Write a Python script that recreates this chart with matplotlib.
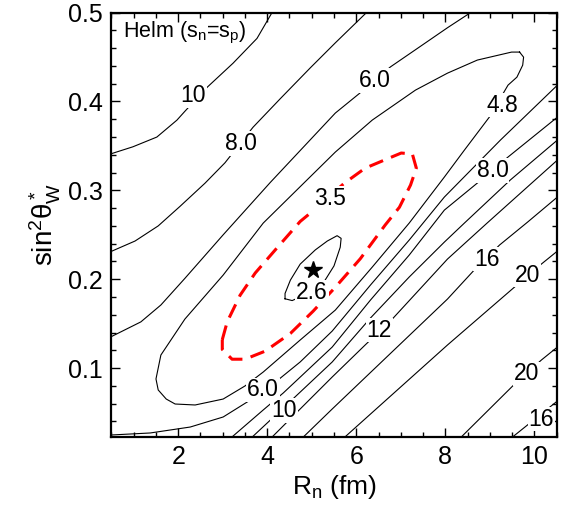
import matplotlib.pyplot as plt
from matplotlib.ticker import MultipleLocator

plt.rcParams["font.family"] = ["Liberation Sans", "DejaVu Sans"]
plt.rcParams["mathtext.fontset"] = "custom"
plt.rcParams["mathtext.rm"] = "Liberation Sans"
plt.rcParams["mathtext.it"] = "Liberation Sans:italic"
plt.rcParams["mathtext.default"] = "regular"

# ---------------------------------------------------------------------------
# Contour lines read off the chi^2 map: R_n (fm) vs sin^2 theta_W
# ---------------------------------------------------------------------------
c10_up_x = [0.48, 0.98, 1.52, 1.97, 2.15, 2.65, 3.23, 3.77, 4.13]
c10_up_y = [0.341, 0.349, 0.360, 0.379, 0.389, 0.416, 0.443, 0.471, 0.502]

c8_up_x = [0.48, 1.03, 1.55, 2.04, 2.60, 3.05, 3.68, 4.29, 4.97, 5.53, 6.27]
c8_up_y = [0.231, 0.243, 0.260, 0.282, 0.308, 0.331, 0.371, 0.403, 0.438, 0.466, 0.502]

c6_up_x = [0.48, 1.16, 1.61, 2.15, 3.01, 4.07, 5.53, 6.07, 6.77, 7.44, 8.05, 8.63]
c6_up_y = [0.135, 0.152, 0.171, 0.201, 0.250, 0.309, 0.387, 0.409, 0.439, 0.462, 0.483, 0.502]

c48_x = [9.67, 9.76, 9.74, 9.61, 9.41, 8.99, 8.43, 7.98, 7.19, 6.36, 5.53, 4.74,
         3.91, 3.50, 3.01, 2.38, 1.93, 1.73, 1.55, 1.50, 1.61, 2.15, 3.01, 3.91,
         5.53, 6.36, 7.33, 8.05, 8.72, 9.49, 9.67]
c48_y = [0.4556, 0.4499, 0.4409, 0.4274, 0.4184, 0.3824, 0.3453, 0.3150, 0.2632,
         0.2137, 0.1653, 0.1316, 0.0956, 0.0799, 0.0652, 0.0585, 0.0596, 0.0652,
         0.0754, 0.0878, 0.1147, 0.1552, 0.2047, 0.2632, 0.3431, 0.3791, 0.4128,
         0.4319, 0.4466, 0.4556, 0.4556]

c6_lo_x = [0.48, 1.37, 2.27, 3.01, 3.91, 4.74, 5.46, 6.32, 7.19, 7.98, 9.24, 10.52]
c6_lo_y = [0.0247, 0.0270, 0.0337, 0.0450, 0.0731, 0.1069, 0.1417, 0.1935, 0.2441,
           0.2925, 0.3566, 0.4184]

c8_lo_x = [3.15, 3.91, 4.36, 5.46, 6.32, 7.19, 7.98, 8.72, 9.41, 10.52]
c8_lo_y = [0.020, 0.0529, 0.0720, 0.1237, 0.1766, 0.2272, 0.2778, 0.3082, 0.3375, 0.3824]

c10_lo_x = [3.61, 4.36, 5.46, 6.32, 7.19, 7.98, 8.43, 9.46, 10.52]
c10_lo_y = [0.020, 0.0551, 0.1069, 0.1564, 0.2025, 0.2418, 0.2632, 0.3116, 0.3566]

c12_x = [4.06, 5.46, 6.20, 6.81, 8.05, 8.94, 10.52]
c12_y = [0.020, 0.0900, 0.1260, 0.1552, 0.2227, 0.2632, 0.3341]

c16_x = [4.76, 5.46, 8.05, 8.65, 9.22, 9.85, 10.52]
c16_y = [0.020, 0.0540, 0.1777, 0.2103, 0.2385, 0.2643, 0.2925]

c20_x = [5.69, 8.05, 9.61, 10.16, 10.52]
c20_y = [0.020, 0.1260, 0.1935, 0.2171, 0.2317]

c20b_x = [8.31, 9.56, 10.16, 10.52]
c20b_y = [0.020, 0.0821, 0.1091, 0.1237]

c16b_x = [9.45, 10.52]
c16b_y = [0.020, 0.063]

c26_x = [4.40, 4.56, 4.74, 5.01, 5.30, 5.50, 5.64, 5.66, 5.57, 5.35, 5.08, 4.74, 4.52, 4.40, 4.40]
c26_y = [0.178, 0.176, 0.180, 0.188, 0.199, 0.215, 0.236, 0.246, 0.249, 0.243, 0.233,
         0.217, 0.199, 0.184, 0.178]

# coarse 3.5 contour (red dashed)
red_x = [2.99, 3.10, 3.39, 3.73, 4.18, 4.74, 5.03, 5.73, 6.20, 6.77, 7.01, 7.26, 7.35,
         7.22, 6.97, 6.65, 6.09, 5.53, 5.03, 4.52, 3.95, 3.50, 3.21, 2.99, 2.99]
red_y = [0.132, 0.152, 0.182, 0.207, 0.233, 0.265, 0.277, 0.308, 0.325, 0.337, 0.342,
         0.341, 0.325, 0.306, 0.281, 0.261, 0.223, 0.191, 0.164, 0.139, 0.119, 0.110,
         0.110, 0.121, 0.132]

best_fit = (5.03, 0.21)

label_text = ["10", "8.0", "6.0", "4.8", "6.0", "10", "12", "8.0", "16", "20", "20",
              "16", "2.6", "3.5"]
label_x = [2.33, 3.41, 6.41, 9.29, 3.91, 4.38, 6.52, 9.06, 8.94, 9.85, 9.83, 10.16, 5.01, 5.42]
label_y = [0.407, 0.353, 0.424, 0.396, 0.0754, 0.052, 0.1428, 0.3228, 0.2227, 0.2047,
           0.0934, 0.0427, 0.1856, 0.291]

black_lines = [
    (c10_up_x, c10_up_y), (c8_up_x, c8_up_y), (c6_up_x, c6_up_y), (c48_x, c48_y),
    (c6_lo_x, c6_lo_y), (c8_lo_x, c8_lo_y), (c10_lo_x, c10_lo_y), (c12_x, c12_y),
    (c16_x, c16_y), (c20_x, c20_y), (c20b_x, c20b_y), (c16b_x, c16b_y), (c26_x, c26_y),
]

fig = plt.figure(figsize=(5.63, 5.05), dpi=100)
ax = fig.add_axes([0.198, 0.1347, 0.7905, 0.8403])

for xs, ys in black_lines:
    ax.plot(xs, ys, color="black", lw=0.8, zorder=2, solid_joinstyle="round")

ax.plot(red_x, red_y, color="red", lw=2.2, dashes=(4.8, 2.8), zorder=3)
ax.plot(*best_fit, marker="*", ms=13, color="black", zorder=4)

for t, x, y in zip(label_text, label_x, label_y):
    ax.text(x, y, t, ha="center", va="center", fontsize=16.5, zorder=5,
            bbox=dict(fc="white", ec="none", pad=0.6))

ax.text(0.026, 0.952, "Helm (s$_n$=s$_p$)", transform=ax.transAxes,
        ha="left", va="center", fontsize=15.5, zorder=6)

ax.set_xlim(0.5, 10.5)
ax.set_ylim(0.0225, 0.5)
ax.xaxis.set_major_locator(MultipleLocator(2))
ax.xaxis.set_minor_locator(MultipleLocator(0.5))
ax.yaxis.set_major_locator(MultipleLocator(0.1))
ax.yaxis.set_minor_locator(MultipleLocator(0.02))
ax.tick_params(which="both", direction="in", top=True, right=True, width=1.0)
ax.tick_params(which="major", length=6.5, pad=6, labelsize=18)
ax.tick_params(which="minor", length=3.5)
for s in ax.spines.values():
    s.set_linewidth(1.6)

ax.set_xlabel("R$_n$ (fm)", fontsize=19, labelpad=3)
ax.set_ylabel(r"sin$^2\theta^*_W$", fontsize=20, labelpad=4)

fig.savefig("out.png", dpi=100, facecolor="white")
